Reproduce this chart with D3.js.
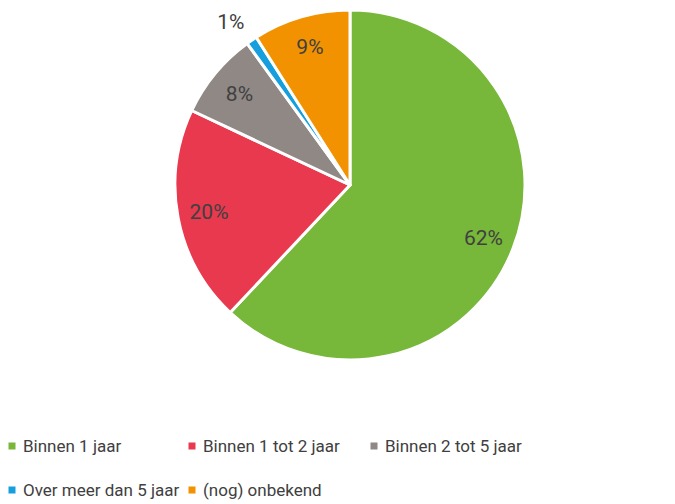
<!DOCTYPE html>
<html>
<head>
<meta charset="utf-8">
<script src="https://cdn.jsdelivr.net/npm/d3@7"></script>
<style>
  body { margin: 0; background: #fff; }
  text { font-family: Roboto, "Open Sans", sans-serif; }
</style>
</head>
<body>
<div id="chart"></div>
<script>
// data
var categories = ["Binnen 1 jaar", "Binnen 1 tot 2 jaar", "Binnen 2 tot 5 jaar", "Over meer dan 5 jaar", "(nog) onbekend"];
var values = [62, 20, 8, 1, 9];
var colors = ["#77B739", "#E8394F", "#8F8884", "#179FDD", "#F29200"];

var width = 675,
    height = 504;

var cx = 350, cy = 185, radius = 175;

var svg = d3.select("#chart")
  .append("svg")
  .attr("width", width)
  .attr("height", height);

var pie = d3.pie().sort(null).value(function(d) { return d; });
var arcs = pie(values);

var arc = d3.arc().innerRadius(0).outerRadius(radius);
var labelArc = d3.arc().innerRadius(radius * 0.82).outerRadius(radius * 0.82);
var outerArc = d3.arc().innerRadius(radius * 1.12).outerRadius(radius * 1.12);

var g = svg.append("g").attr("transform", "translate(" + cx + "," + cy + ")");

g.selectAll("path")
  .data(arcs)
  .enter().append("path")
  .attr("d", arc)
  .attr("fill", function(d, i) { return colors[i]; })
  .attr("stroke", "#fff")
  .attr("stroke-width", 3)
  .attr("stroke-linejoin", "round");

// percentage labels, small slices get theirs outside the pie
g.selectAll("text.lbl")
  .data(arcs)
  .enter().append("text")
  .attr("class", "lbl")
  .attr("transform", function(d) {
    var p;
    if (d.data < 3) {
      p = outerArc.centroid(d);
      p[0] -= 9;
      p[1] -= 1;
    } else {
      p = labelArc.centroid(d);
    }
    return "translate(" + p[0] + "," + p[1] + ")";
  })
  .attr("text-anchor", "middle")
  .attr("dominant-baseline", "central")
  .attr("fill", "#404040")
  .style("font-size", "21px")
  .text(function(d) { return d.data + "%"; });

// legend
var legendPos = [[12, 446], [192, 446], [374, 446], [12, 490], [192, 490]];

var legend = svg.selectAll("g.legend")
  .data(categories)
  .enter().append("g")
  .attr("class", "legend")
  .attr("transform", function(d, i) { return "translate(" + legendPos[i][0] + "," + legendPos[i][1] + ")"; });

legend.append("rect")
  .attr("x", -3.5)
  .attr("y", -3.5)
  .attr("width", 7)
  .attr("height", 7)
  .attr("fill", function(d, i) { return colors[i]; });

legend.append("text")
  .attr("x", 11)
  .attr("y", 0)
  .attr("dominant-baseline", "central")
  .attr("fill", "#404040")
  .style("font-size", "17px")
  .text(function(d) { return d; });
</script>
</body>
</html>
